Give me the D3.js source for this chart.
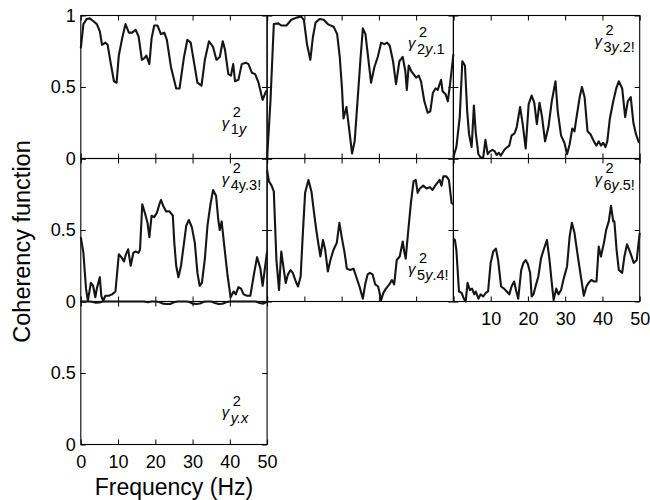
<!DOCTYPE html>
<html>
<head>
<meta charset="utf-8">
<script src="https://cdn.jsdelivr.net/npm/d3@7"></script>
<style>
  body { margin: 0; background: #fff; }
  svg { display: block; }
  text { font-family: "Liberation Sans", Arial, Helvetica, sans-serif; fill: #000; }
</style>
</head>
<body>
<svg id="chart" width="650" height="500"></svg>
<script>
// Coherency spectra, [frequency (Hz), coherence] pairs for each panel.
const coh1y = [[0,0.77],[0.7,0.94],[1.6,0.976],[2.4,0.98],[3.4,0.96],[4.3,0.94],[5.1,0.89],[5.7,0.795],[6.6,0.81],[7.2,0.795],[8,0.67],[8.9,0.54],[9.6,0.53],[10.2,0.72],[11.1,0.84],[12,0.94],[12.9,0.88],[13.8,0.88],[14.7,0.9],[15.5,0.855],[16.4,0.69],[17,0.7],[17.6,0.72],[18.4,0.66],[19,0.84],[19.7,0.93],[20.6,0.93],[21.5,0.87],[22.4,0.88],[23.1,0.83],[24.2,0.64],[25.6,0.49],[26.5,0.49],[27.7,0.71],[28.6,0.83],[29.5,0.81],[30.4,0.67],[31.3,0.53],[32.4,0.51],[33.3,0.69],[34.4,0.82],[35.5,0.78],[36.4,0.69],[37.3,0.71],[38.1,0.82],[38.7,0.76],[39.6,0.59],[40.3,0.58],[40.9,0.66],[41.4,0.54],[42.3,0.55],[43.2,0.66],[44.3,0.67],[45,0.66],[45.9,0.6],[46.8,0.59],[47.7,0.53],[48.8,0.41],[49.7,0.47],[50,0.47]];

const coh2y1 = [[0,0],[0.9,0.4],[1.8,0.94],[3,0.945],[3.8,0.93],[5.2,0.93],[6.5,0.97],[7.9,0.985],[9.2,0.993],[9.9,0.965],[10.7,0.8],[11.6,0.69],[12.3,0.85],[13,0.95],[14.1,0.976],[15.2,0.97],[16.3,0.94],[17.9,0.92],[18.8,0.87],[19.5,0.71],[20.1,0.49],[20.5,0.28],[21.3,0.36],[22,0.21],[22.8,0.035],[23.5,0.12],[24.4,0.45],[25.1,0.71],[25.7,0.91],[26.4,0.87],[27.1,0.71],[27.9,0.53],[28.8,0.64],[29.7,0.71],[30.6,0.81],[31.5,0.8],[32.2,0.81],[32.9,0.79],[33.8,0.68],[34.6,0.52],[35.5,0.68],[36.4,0.71],[37.1,0.61],[37.5,0.48],[38,0.65],[38.7,0.61],[39.3,0.59],[40,0.565],[40.7,0.58],[41.3,0.54],[42.2,0.4],[43.1,0.32],[43.8,0.33],[44.5,0.46],[45.2,0.49],[45.8,0.48],[46.3,0.52],[46.7,0.55],[47.1,0.47],[47.9,0.45],[48.5,0.4],[49.1,0.52],[49.6,0.635],[50,0.73]];

const coh3y2 = [[0,0.01],[0.8,0.08],[1.7,0.29],[2.4,0.68],[3.1,0.65],[3.7,0.33],[4.2,0.17],[4.9,0.08],[5.5,0.37],[6,0.18],[6.7,0.03],[7.3,0.007],[8,0.007],[8.6,0.13],[9.2,0.03],[9.8,0.05],[10.5,0.06],[11.1,0.05],[11.6,0.025],[12.2,0.04],[12.7,0.02],[13.2,0.04],[13.8,0.065],[14.5,0.08],[15,0.09],[15.6,0.16],[16.4,0.175],[17,0.22],[17.9,0.36],[18.6,0.24],[19.4,0.07],[20.2,0.38],[21,0.44],[21.7,0.39],[22.4,0.24],[23.1,0.39],[23.8,0.29],[24.6,0.12],[25.5,0.22],[26.4,0.4],[27.4,0.54],[28,0.33],[28.9,0.16],[29.8,0.11],[30.5,0.03],[31.2,0.1],[31.9,0.21],[32.5,0.19],[33,0.28],[33.9,0.43],[34.5,0.5],[35.2,0.43],[36,0.19],[36.8,0.17],[37.7,0.12],[38.4,0.09],[39,0.12],[39.6,0.09],[40.2,0.11],[40.8,0.08],[41.3,0.12],[42,0.28],[42.9,0.4],[43.7,0.49],[44.4,0.54],[45.3,0.49],[46.1,0.29],[46.8,0.4],[47.6,0.43],[48.3,0.25],[49,0.17],[49.8,0.11]];

const coh4y3 = [[0,0.45],[0.7,0.34],[1.4,0.09],[1.9,0.005],[2.7,0.13],[3.3,0.11],[3.9,0.03],[4.3,0.09],[5.1,0.17],[5.5,0.04],[6,0.005],[6.6,0.04],[7.5,0.04],[8.4,0.05],[9.3,0.07],[10.2,0.33],[10.9,0.31],[11.6,0.28],[12.1,0.33],[12.7,0.365],[13.4,0.25],[14.1,0.34],[14.7,0.35],[15.5,0.34],[15.9,0.365],[16.5,0.68],[17.3,0.61],[17.9,0.55],[18.4,0.45],[19,0.6],[19.7,0.59],[20.4,0.62],[21.1,0.68],[21.5,0.71],[22.1,0.67],[22.9,0.63],[23.8,0.63],[24.7,0.6],[25.1,0.41],[25.6,0.25],[26.2,0.17],[26.9,0.25],[27.7,0.41],[28.3,0.53],[29,0.57],[29.8,0.52],[30.6,0.41],[31.3,0.2],[31.9,0.11],[32.5,0.13],[33.3,0.3],[34,0.53],[34.8,0.68],[35.5,0.78],[36.3,0.74],[36.9,0.57],[37.3,0.5],[37.8,0.56],[38.5,0.39],[39.4,0.18],[40.2,0.03],[41,0.07],[41.6,0.05],[42.3,0.1],[43,0.09],[43.7,0.05],[44.6,0.04],[45.5,0.04],[46.4,0.18],[47.3,0.31],[48.2,0.23],[48.8,0.11],[49.4,0.23],[50,0.35]];

const coh5y4 = [[0,0.92],[0.5,0.84],[1.2,0.81],[1.8,0.77],[2.5,0.29],[3.2,0.08],[3.8,0.35],[4.5,0.22],[5,0.13],[5.6,0.19],[6.3,0.22],[6.9,0.2],[7.7,0.14],[8.3,0.105],[9,0.175],[9.6,0.48],[10.2,0.76],[11.1,0.85],[11.9,0.77],[12.6,0.62],[13.2,0.5],[13.6,0.43],[14.3,0.315],[15,0.43],[15.6,0.36],[16.3,0.21],[17,0.29],[17.8,0.36],[18.7,0.41],[19.4,0.55],[20.1,0.44],[20.8,0.34],[21.4,0.23],[22.3,0.22],[23.2,0.23],[23.9,0.175],[24.8,0.105],[25.7,0.02],[26.4,0.13],[27,0.19],[27.6,0.2],[28.3,0.19],[29,0.12],[29.8,0.105],[30.6,0.01],[31.2,0.06],[31.9,0.09],[32.8,0.12],[33.5,0.15],[34.1,0.12],[34.8,0.29],[35.6,0.315],[36.4,0.42],[36.8,0.35],[37.2,0.3],[37.9,0.5],[38.6,0.69],[39.3,0.84],[39.9,0.85],[40.4,0.76],[41,0.79],[41.9,0.81],[42.8,0.79],[43.7,0.8],[44.4,0.78],[45.1,0.81],[45.7,0.83],[46.3,0.85],[46.8,0.81],[47.3,0.875],[48.1,0.875],[48.8,0.85],[49.5,0.69],[50,0.68]];

const coh6y5 = [[0,0.44],[0.4,0.43],[0.8,0.36],[1.5,0.07],[2.2,0.06],[2.8,0.02],[3.3,0],[3.8,0.13],[4.4,0.08],[5,0.09],[5.6,0.05],[6,0.07],[6.7,0.02],[7.3,0.05],[8,0.035],[8.7,0.06],[9.3,0.07],[10,0.27],[10.7,0.35],[11.4,0.37],[12,0.29],[12.8,0.105],[13.6,0.09],[14.3,0.07],[15,0.05],[15.6,0.105],[16.3,0.14],[16.8,0.08],[17.4,0.02],[18.2,0.22],[18.8,0.27],[19.4,0.29],[20,0.26],[20.6,0.2],[21,0.035],[21.5,0.05],[22.2,0.12],[22.8,0.175],[23.5,0.3],[24.2,0.36],[25.1,0.43],[25.8,0.29],[26.4,0.13],[26.9,0.01],[27.6,0.09],[28.2,0.05],[28.9,0.08],[29.6,0.16],[30.5,0.245],[31.2,0.455],[31.8,0.55],[32.5,0.48],[33.4,0.315],[34.3,0.16],[35,0.04],[35.7,0.105],[36.3,0.13],[37,0.15],[37.8,0.14],[38.4,0.14],[39,0.385],[39.6,0.315],[40.4,0.41],[41,0.5],[41.7,0.56],[42.3,0.67],[42.9,0.56],[43.2,0.56],[43.8,0.36],[44.4,0.22],[45.3,0.2],[45.9,0.315],[46.6,0.4],[47.5,0.34],[48.4,0.27],[49.2,0.29],[50,0.48]];

const cohYX = [[0,1],[1,1],[2,1],[3,0.998],[4,0.992],[5,0.994],[6,1],[8,1],[10,1],[12,1],[14,1],[16,1],[17,1],[18,0.995],[19,1],[20,1],[21,0.997],[22,0.985],[23,0.982],[24,0.983],[25,0.995],[26,1],[28,1],[29,0.998],[30,0.985],[31,0.982],[32,0.986],[33,0.998],[34,1],[35,1],[36,0.99],[37,0.982],[38,0.984],[39,0.995],[40,1],[42,1],[44,1],[46,1],[47,1],[48,0.99],[49,0.985],[50,0.998]];

// Axis ticks and their labels.
const freqTicks = [0, 10, 20, 30, 40, 50];
const cohTicks = [0, 0.5, 1];
const xTitle = "Frequency (Hz)";
const yTitle = "Coherency function";

// Panel subscripts: [text, italic?] runs.
const sub1y   = [["1", false], ["y", true]];
const sub2y1  = [["2", false], ["y", true], [".1", false]];
const sub3y2  = [["3", false], ["y", true], [".2!", false]];
const sub4y3  = [["4y.3!", false]];
const sub5y4  = [["5", false], ["y", true], [".4!", false]];
const sub6y5  = [["6", false], ["y", true], [".5!", false]];
const subYX   = [["y.x", true]];

// Grid geometry.
const gridLeft = 80.8, colW = 186.3;
const gridTop = 15.5, rowH = 143;

const panels = [
  { data: coh1y,  row: 0, col: 0, sub: sub1y,  labelY: 112.5, yLabels: [0, 0.5, 1], xLabels: null },
  { data: coh2y1, row: 0, col: 1, sub: sub2y1, labelY: 32.5,  yLabels: null, xLabels: null },
  { data: coh3y2, row: 0, col: 2, sub: sub3y2, labelY: 30.5,  yLabels: null, xLabels: null },
  { data: coh4y3, row: 1, col: 0, sub: sub4y3, labelY: 25.5,  yLabels: [0, 0.5], xLabels: null },
  { data: coh5y4, row: 1, col: 1, sub: sub5y4, labelY: 115.5, yLabels: null, xLabels: null },
  { data: coh6y5, row: 1, col: 2, sub: sub6y5, labelY: 25.5,  yLabels: null, xLabels: [10, 20, 30, 40, 50] },
  { data: cohYX,  row: 2, col: 0, sub: subYX,  labelY: 115.5, yLabels: [0, 0.5], xLabels: [0, 10, 20, 30, 40, 50] }
];

const svg = d3.select("#chart");
const fmt = d => (d === 0.5 ? "0.5" : String(d));
const tickFont = 18;

// Frames, ticks and tick labels.
panels.forEach(p => {
  const left = gridLeft + p.col * colW, top = gridTop + p.row * rowH;
  p.x = d3.scaleLinear().domain([0, 50]).range([left, left + colW]);
  p.y = d3.scaleLinear().domain([0, 1]).range([top + rowH, top]);
  p.left = left; p.top = top;

  const g = svg.append("g").attr("class", "panel");

  const axes = [
    { ax: d3.axisBottom(p.x).tickValues(freqTicks), tr: `translate(0,${top + rowH})`, labels: p.xLabels, pad: 11 },
    { ax: d3.axisTop(p.x).tickValues(freqTicks),    tr: `translate(0,${top})`,        labels: null, pad: 3 },
    { ax: d3.axisLeft(p.y).tickValues(cohTicks),    tr: `translate(${left},0)`,       labels: p.yLabels, pad: 5 },
    { ax: d3.axisRight(p.y).tickValues(cohTicks),   tr: `translate(${left + colW},0)`, labels: null, pad: 3 }
  ];
  axes.forEach(a => {
    const labels = a.labels;
    a.ax.tickSizeInner(-5).tickSizeOuter(0).tickPadding(a.pad)
      .tickFormat(d => (labels && labels.includes(d) ? fmt(d) : ""));
    const ag = g.append("g").attr("transform", a.tr).call(a.ax);
    ag.select(".domain").remove();
    ag.selectAll(".tick line").attr("stroke", "#000").attr("stroke-width", 1);
    ag.selectAll(".tick text")
      .attr("font-size", tickFont)
      .attr("font-family", "'Liberation Sans', Arial, sans-serif")
      .attr("fill", "#000");
  });

  g.append("rect")
    .attr("x", left).attr("y", top)
    .attr("width", colW).attr("height", rowH)
    .attr("fill", "none").attr("stroke", "#000").attr("stroke-width", 1.1);
});

// Coherence traces.
const line = d3.line();
panels.forEach(p => {
  svg.append("path")
    .attr("d", line.x(d => p.x(d[0])).y(d => p.y(d[1]))(p.data))
    .attr("fill", "none")
    .attr("stroke", "#151515")
    .attr("stroke-width", 2.1)
    .attr("stroke-linejoin", "round");
});

// Panel labels: gamma squared with a subscript.
panels.forEach(p => {
  const gx = p.left + 141, gy = p.top + p.labelY;
  svg.append("text")
    .attr("x", gx).attr("y", gy)
    .attr("font-family", "'DejaVu Serif', serif")
    .attr("font-style", "italic")
    .attr("font-size", 15)
    .text("\u03B3");
  svg.append("text")
    .attr("x", gx + 11).attr("y", gy - 11)
    .attr("font-size", 14.5)
    .text("2");
  const st = svg.append("text")
    .attr("x", gx + 9).attr("y", gy + 6)
    .attr("font-size", 14.5);
  p.sub.forEach(([t, it]) => {
    st.append("tspan").attr("font-style", it ? "italic" : "normal").text(t);
  });
});

// Axis titles.
svg.append("text")
  .attr("x", gridLeft + colW / 2).attr("y", 495)
  .attr("text-anchor", "middle")
  .attr("font-size", 23)
  .text(xTitle);

svg.append("text")
  .attr("transform", "translate(30,241.5) rotate(-90)")
  .attr("text-anchor", "middle")
  .attr("font-size", 23.5)
  .text(yTitle);
</script>
</body>
</html>
